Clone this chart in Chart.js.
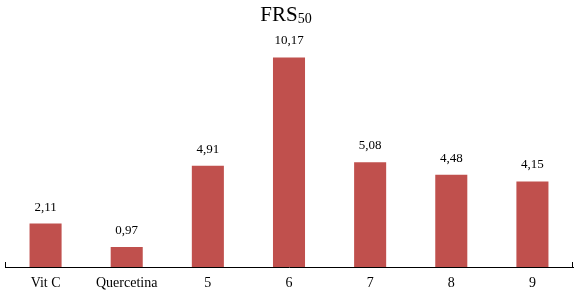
<!DOCTYPE html>
<html>
<head>
<meta charset="utf-8">
<script src="https://cdn.jsdelivr.net/npm/chart.js@4"></script>
<style>
  html, body { margin: 0; padding: 0; background: #fff; }
  #wrap { position: relative; width: 579px; height: 299px; }
  #title {
    position: absolute; top: 2px; left: 0; width: 572px;
    text-align: center; font-family: "Liberation Serif", serif;
    font-size: 21px; color: #000; line-height: 24px;
  }
  #title sub { font-size: 14px; vertical-align: -2px; line-height: 0; }
</style>
</head>
<body>
<div id="wrap">
  <canvas id="barChart" width="579" height="299"></canvas>
  <div id="title">FRS<sub>50</sub></div>
</div>
<script>
// data
const categories = ["Vit C", "Quercetina", "5", "6", "7", "8", "9"];
const values = [2.11, 0.97, 4.91, 10.17, 5.08, 4.48, 4.15];

const serif = "'Liberation Serif', serif";

// value labels above each bar, decimal comma
const barLabels = {
  id: "barLabels",
  afterDatasetsDraw(chart) {
    const ctx = chart.ctx;
    ctx.save();
    ctx.font = "13px " + serif;
    ctx.fillStyle = "#000";
    ctx.textAlign = "center";
    ctx.textBaseline = "alphabetic";
    chart.getDatasetMeta(0).data.forEach((bar, i) => {
      ctx.fillText(values[i].toFixed(2).replace(".", ","), bar.x, bar.y - 13);
    });
    ctx.restore();
  }
};

// little end ticks on the category axis
const endTicks = {
  id: "endTicks",
  afterDraw(chart) {
    const { ctx, chartArea } = chart;
    ctx.save();
    ctx.strokeStyle = "#000";
    ctx.lineWidth = 1;
    ctx.beginPath();
    ctx.moveTo(chartArea.left + 0.5, chartArea.bottom - 5);
    ctx.lineTo(chartArea.left + 0.5, chartArea.bottom);
    ctx.moveTo(chartArea.right - 0.5, chartArea.bottom - 5);
    ctx.lineTo(chartArea.right - 0.5, chartArea.bottom);
    ctx.stroke();
    ctx.restore();
  }
};

const barChart = new Chart(document.getElementById("barChart"), {
  type: "bar",
  data: {
    labels: categories,
    datasets: [{
      data: values,
      backgroundColor: "#C0504D",
      barPercentage: 0.79,
      categoryPercentage: 0.5
    }]
  },
  options: {
    responsive: false,
    animation: false,
    layout: { padding: { top: 30, left: 5, right: 6, bottom: 0 } },
    plugins: {
      legend: { display: false },
      title: { display: false },
      tooltip: { enabled: false }
    },
    scales: {
      x: {
        grid: { display: false, drawTicks: false },
        border: { display: true, color: "#000", width: 1 },
        ticks: { color: "#000", font: { family: serif, size: 14, lineHeight: 1.0 }, padding: 9 }
      },
      y: { display: false, min: 0, max: 11.5 }
    }
  },
  plugins: [barLabels, endTicks]
});
</script>
</body>
</html>
